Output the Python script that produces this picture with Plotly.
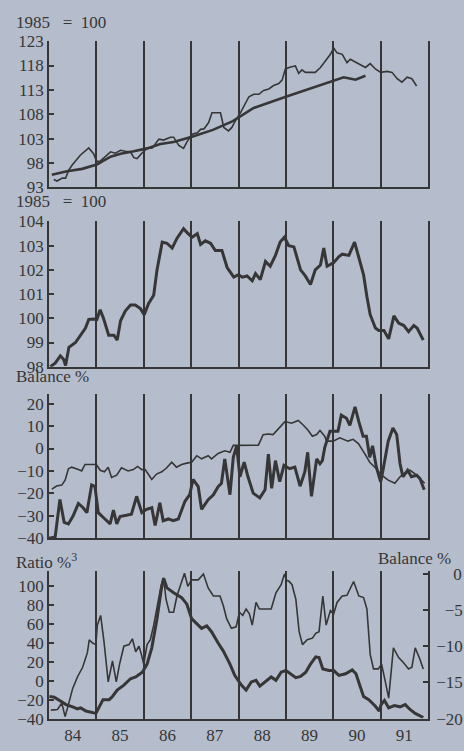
import plotly.graph_objects as go

# ---------------- data ----------------
# Panel 1: index 1985=100 (thin = actual, thick = trend)
x1a = [1984.10,1984.17,1984.28,1984.35,1984.42,1984.49,1984.66,1984.84,1984.94,
       1985.01,1985.08,1985.19,1985.30,1985.40,1985.51,1985.61,1985.72,1985.79,1985.86,1985.96,
       1986.07,1986.18,1986.32,1986.42,1986.56,1986.63,1986.74,1986.84,1986.91,
       1987.02,1987.13,1987.20,1987.27,1987.37,1987.44,1987.55,1987.62,1987.69,1987.79,1987.86,1987.93,
       1988.04,1988.11,1988.22,1988.32,1988.43,1988.53,1988.64,1988.74,1988.85,1988.92,1988.99,
       1989.10,1989.20,1989.27,1989.34,1989.41,1989.52,1989.62,1989.73,1989.83,1989.94,
       1990.01,1990.08,1990.19,1990.29,1990.36,1990.47,1990.57,1990.68,1990.78,1990.89,
       1991.00,1991.14,1991.24,1991.35,1991.45,1991.56,1991.66,1991.76]
y1a = [94.6,94.3,94.9,94.9,96.6,97.6,99.6,101.1,99.9,
       98.3,98.4,99.3,100.3,100.0,100.6,100.4,100.3,99.1,98.9,100.0,
       101.0,101.1,102.9,102.7,103.3,103.3,101.6,101.0,102.3,
       103.9,104.2,104.9,105.0,106.3,108.3,108.3,108.3,105.3,104.6,105.3,106.6,
       108.3,109.6,111.6,112.1,112.1,112.9,113.2,113.9,114.3,115.0,117.3,
       117.7,117.9,116.4,117.1,116.6,116.6,116.6,117.6,118.9,120.3,
       121.6,120.6,120.3,118.6,119.3,118.7,118.1,117.6,118.4,117.3,
       116.6,116.8,116.6,115.3,114.6,115.6,115.3,113.8]
x1t = [1984.06,1984.38,1984.70,1985.01,1985.30,1985.51,1985.79,1986.07,1986.35,1986.63,
       1987.02,1987.46,1987.88,1988.32,1989.03,1989.52,1990.01,1990.22,1990.47,1990.68]
y1t = [95.6,96.3,96.8,97.7,99.3,99.9,100.4,101.0,101.9,102.3,
       103.4,104.8,106.6,109.3,111.7,113.3,114.9,115.6,115.1,115.9]

# Panel 2: index 1985=100
x2 = [1984.03,1984.13,1984.24,1984.31,1984.35,1984.42,1984.56,1984.66,1984.77,1984.84,1984.94,
      1985.01,1985.08,1985.15,1985.26,1985.37,1985.44,1985.51,1985.61,1985.72,1985.82,1985.93,
      1986.01,1986.10,1986.21,1986.28,1986.39,1986.49,1986.60,1986.70,1986.84,1986.91,
      1987.02,1987.13,1987.20,1987.30,1987.41,1987.51,1987.65,1987.76,1987.90,
      1988.00,1988.08,1988.18,1988.29,1988.36,1988.46,1988.57,1988.67,1988.78,1988.88,1988.97,
      1989.06,1989.17,1989.31,1989.41,1989.52,1989.62,1989.73,1989.80,1989.87,
      1990.01,1990.12,1990.19,1990.33,1990.45,1990.54,1990.64,1990.71,1990.78,1990.89,1990.96,
      1991.07,1991.17,1991.28,1991.38,1991.49,1991.59,1991.70,1991.77,1991.90]
y2 = [98.0,98.15,98.45,98.3,98.05,98.8,99.0,99.3,99.6,99.95,99.97,
      99.95,100.35,100.0,99.3,99.3,99.1,99.9,100.3,100.55,100.55,100.4,
      100.15,100.6,100.95,102.0,103.15,103.1,102.9,103.3,103.7,103.55,
      103.35,103.5,103.05,103.2,103.1,102.8,102.8,102.1,101.7,
      101.8,101.7,101.75,101.55,101.85,101.6,102.35,102.15,102.6,103.15,103.35,
      103.0,102.95,102.0,101.75,101.4,102.0,102.2,102.9,102.15,
      102.3,102.55,102.65,102.6,103.15,102.55,101.8,100.9,100.15,99.6,99.5,
      99.5,99.15,100.1,99.8,99.7,99.45,99.7,99.6,99.1]

# Panel 3: balance % (thin and thick)
x3a = [1984.06,1984.16,1984.27,1984.34,1984.41,1984.48,1984.62,1984.69,1984.76,1984.90,
       1985.00,1985.08,1985.17,1985.25,1985.32,1985.43,1985.53,1985.67,1985.78,1985.87,1985.96,
       1986.03,1986.17,1986.27,1986.38,1986.48,1986.59,1986.69,1986.80,1986.91,
       1987.01,1987.12,1987.22,1987.29,1987.36,1987.43,1987.57,1987.71,1987.82,1987.89,1987.99,
       1988.42,1988.52,1988.63,1988.73,1988.87,1988.98,
       1989.12,1989.26,1989.36,1989.46,1989.56,1989.65,1989.72,1989.82,1989.86,
       1990.00,1990.14,1990.31,1990.42,1990.53,1990.67,1990.77,1990.91,
       1991.02,1991.16,1991.30,1991.41,1991.51,1991.62,1991.72,1991.83,1991.93]
y3a = [-18.1,-16.7,-16.3,-14.1,-9.0,-8.3,-9.4,-10.0,-7.1,-7.1,
       -7.1,-9.7,-10.4,-8.3,-12.9,-11.9,-8.6,-10.0,-9.4,-8.0,-9.4,
       -9.4,-13.8,-11.4,-10.4,-8.7,-6.1,-8.3,-7.1,-6.5,
       -6.1,-3.2,-4.6,-3.9,-3.2,-4.6,-2.2,-1.0,-1.7,1.4,1.4,
       1.5,6.2,6.5,6.2,9.4,12.0,
       11.3,12.5,10.6,8.4,5.5,6.2,8.0,5.5,3.3,
       3.3,4.8,3.3,4.1,2.2,-2.5,-6.1,-9.0,
       -11.9,-14.1,-15.5,-12.6,-10.9,-9.7,-11.2,-13.4,-15.5]
x3b = [1984.00,1984.13,1984.23,1984.32,1984.41,1984.51,1984.62,1984.72,1984.80,1984.90,1984.97,
       1985.04,1985.18,1985.29,1985.36,1985.43,1985.50,1985.64,1985.74,1985.85,1985.96,
       1986.06,1986.17,1986.24,1986.34,1986.41,1986.52,1986.62,1986.73,1986.87,1986.97,
       1987.04,1987.15,1987.22,1987.36,1987.47,1987.57,1987.64,1987.71,1987.82,1987.89,1987.96,
       1988.03,1988.12,1988.20,1988.31,1988.45,1988.56,1988.63,1988.70,1988.78,1988.87,1988.96,
       1989.08,1989.19,1989.30,1989.40,1989.46,1989.54,1989.65,1989.72,1989.77,1989.82,1989.93,
       1990.03,1990.10,1990.17,1990.28,1990.35,1990.46,1990.54,1990.63,1990.70,1990.77,1990.83,1990.91,
       1991.00,1991.05,1991.16,1991.26,1991.34,1991.41,1991.47,1991.57,1991.65,1991.76,1991.83,1991.92]
y3b = [-40.0,-39.4,-22.7,-32.9,-33.6,-30.0,-24.5,-26.4,-28.6,-16.2,-16.9,
       -28.6,-31.4,-33.6,-27.4,-33.6,-30.3,-29.7,-29.3,-21.3,-28.6,
       -27.1,-26.4,-34.3,-24.2,-32.2,-31.4,-32.2,-31.4,-23.5,-20.6,
       -13.8,-17.0,-27.1,-22.8,-20.6,-17.0,-15.5,-4.6,-20.6,-3.9,1.2,
       -12.6,-6.1,-12.6,-19.9,-22.0,-18.4,-2.5,-17.7,-5.4,-14.8,-7.5,
       -9.0,-8.3,-16.8,-10.4,-1.7,-21.3,-4.6,-6.8,-5.4,0.4,7.7,
       7.7,7.7,14.9,13.5,10.3,18.6,12.0,5.5,5.5,-3.9,1.2,-8.3,
       -14.8,-9.7,3.3,9.1,6.2,-6.8,-12.6,-9.7,-12.6,-11.9,-13.4,-18.4]

# Panel 4: ratio % (thin and thick)
x4a = [1984.04,1984.18,1984.27,1984.34,1984.41,1984.50,1984.60,1984.71,1984.81,1984.85,1984.92,1984.99,
       1985.02,1985.09,1985.16,1985.25,1985.34,1985.42,1985.49,1985.58,1985.69,1985.76,1985.83,1985.90,1985.95,
       1986.00,1986.07,1986.14,1986.21,1986.30,1986.37,1986.42,1986.47,1986.54,1986.63,1986.70,1986.80,1986.86,1986.93,
       1987.01,1987.15,1987.26,1987.36,1987.47,1987.61,1987.68,1987.75,1987.85,1987.95,
       1988.02,1988.09,1988.16,1988.23,1988.29,1988.37,1988.44,1988.55,1988.69,1988.79,1988.90,1988.97,
       1989.01,1989.07,1989.13,1989.21,1989.28,1989.35,1989.45,1989.56,1989.63,1989.70,1989.78,1989.85,1989.94,
       1990.01,1990.08,1990.19,1990.29,1990.43,1990.54,1990.64,1990.71,1990.78,1990.85,1990.95,
       1991.02,1991.10,1991.17,1991.27,1991.38,1991.48,1991.59,1991.66,1991.73,1991.83,1991.90]
y4a = [-31.1,-30.4,-23.6,-37.9,-25.3,-8.2,3.8,14.0,29.4,43.0,39.6,37.9,
       58.4,68.6,41.3,-1.4,20.8,-1.4,17.4,36.2,37.9,44.0,30.4,36.2,27.6,
       17.4,37.9,43.0,58.4,82.3,101.0,107.9,85.7,72.0,72.0,89.1,104.4,113.0,99.3,
       106.1,106.1,112.3,97.6,89.1,89.1,78.8,65.2,55.0,56.7,
       72.0,68.6,75.4,70.3,58.4,82.3,75.4,75.4,75.4,92.5,101.0,112.3,
       106.1,104.4,101.0,85.7,51.5,37.9,43.0,44.7,49.8,51.5,89.1,58.4,73.7,
       70.3,82.3,89.1,89.8,104.4,89.1,87.4,75.4,27.6,12.3,12.3,
       17.4,-1.4,-18.4,34.5,24.2,19.1,12.3,14.0,34.5,22.5,12.3]
x4b = [1984.01,1984.11,1984.25,1984.36,1984.50,1984.60,1984.67,1984.78,1984.99,
       1985.06,1985.14,1985.27,1985.34,1985.44,1985.58,1985.72,1985.83,1985.97,
       1986.07,1986.17,1986.28,1986.37,1986.42,1986.49,1986.63,1986.80,1986.91,
       1987.01,1987.12,1987.22,1987.33,1987.43,1987.57,1987.68,1987.82,1987.92,
       1988.06,1988.16,1988.27,1988.37,1988.45,1988.58,1988.69,1988.79,1988.90,
       1989.00,1989.10,1989.21,1989.31,1989.42,1989.52,1989.63,1989.70,1989.78,1989.91,
       1990.01,1990.12,1990.26,1990.40,1990.48,1990.57,1990.64,1990.75,1990.89,1990.97,
       1991.01,1991.08,1991.17,1991.29,1991.41,1991.52,1991.62,1991.73,1991.83,1991.90]
y4b = [-16.7,-17.4,-21.8,-25.3,-27.6,-29.7,-28.7,-32.1,-34.5,
       -27.0,-20.1,-20.1,-16.7,-9.9,-4.8,2.0,3.8,8.9,
       17.4,34.5,65.2,95.9,107.9,97.6,92.5,87.4,80.5,
       65.2,60.1,55.0,57.7,51.5,39.6,31.1,17.4,5.5,
       -4.8,-9.9,-1.4,0.3,-5.8,-0.3,3.8,0.3,8.9,
       10.6,7.2,3.1,4.4,8.9,17.4,24.9,24.2,12.3,10.6,
       10.6,5.5,7.2,11.3,7.2,-6.5,-16.7,-20.1,-27.0,-32.1,
       -25.3,-20.8,-28.7,-26.3,-27.6,-25.3,-30.4,-34.5,-37.2,-38.9]

year_bounds = [1985, 1986, 1987, 1988, 1989, 1990, 1991]
year_mid = [1984.5, 1985.5, 1986.5, 1987.5, 1988.5, 1989.5, 1990.5, 1991.5]
year_labels = ["84", "85", "86", "87", "88", "89", "90", "91"]

p1_ticks = [93, 98, 103, 108, 113, 118, 123]
p2_ticks = [98, 99, 100, 101, 102, 103, 104]
p3_ticks = [-40, -30, -20, -10, 0, 10, 20]
p4_ticks = [-40, -20, 0, 20, 40, 60, 80, 100]
p4r_ticks = [0, -5, -10, -15, -20]
# word joiner keeps the padding from being trimmed, so labels line up on the right
p4r_text = ["\u2060\u00a0\u00a0\u00a0\u00a00", "\u2060\u00a0\u00a0\u22125",
            "\u221210", "\u221215", "\u221220"]

# ---------------- style ----------------
BG = "#b5bdcc"
INK = "#363636"
FONT = "Liberation Serif, Times New Roman, serif"
FS = 17
W, H = 464, 751
XL, XR = 49, 428

def py(p):
    return 1 - p / H

fig = go.Figure()

def line(x, y, xa, ya, w):
    fig.add_trace(go.Scatter(x=x, y=y, xaxis=xa, yaxis=ya, mode="lines",
                             line=dict(color=INK, width=w), showlegend=False,
                             hoverinfo="skip"))

line(x1a, y1a, "x", "y", 1.6)
line(x1t, y1t, "x", "y", 2.6)
line(x2, y2, "x2", "y2", 3.0)
line(x3a, y3a, "x3", "y3", 1.6)
line(x3b, y3b, "x3", "y3", 3.0)
line(x4a, y4a, "x4", "y4", 1.6)
line(x4b, y4b, "x4", "y4", 3.0)
# anchor trace for the right-hand balance axis of the bottom panel
fig.add_trace(go.Scatter(x=[1984.5], y=[-30], xaxis="x4", yaxis="y5", mode="markers",
                         marker=dict(opacity=0), showlegend=False, hoverinfo="skip"))

tickfont = dict(family=FONT, size=FS, color=INK)

def xaxis(anchor, labels):
    d = dict(domain=[XL / W, XR / W], range=[1984, 1992], anchor=anchor,
             showline=True, linecolor=INK, linewidth=1.5, showgrid=False,
             zeroline=False, ticks="", fixedrange=True,
             minor=dict(tickmode="array", tickvals=year_bounds, showgrid=True,
                        gridcolor=INK, gridwidth=1.5, ticks=""),
             tickfont=tickfont)
    if labels:
        d.update(tickmode="array", tickvals=year_mid, ticktext=year_labels,
                 showticklabels=True)
    else:
        d.update(showticklabels=False)
    return d

def yaxis(anchor, dom, rng, tv, mirror=True):
    return dict(domain=[py(dom[1]), py(dom[0])], range=rng, anchor=anchor,
                tickmode="array", tickvals=tv, ticks="inside", ticklen=5,
                tickwidth=1.5, tickcolor=INK, showline=True, linecolor=INK,
                linewidth=1.5, mirror=mirror, showgrid=False, zeroline=False,
                tickfont=tickfont, fixedrange=True)

fig.update_layout(
    width=W, height=H, margin=dict(l=0, r=0, t=0, b=0),
    paper_bgcolor=BG, plot_bgcolor=BG,
    font=dict(family=FONT, size=FS, color=INK),
    xaxis=xaxis("y", False),
    xaxis2=xaxis("y2", False),
    xaxis3=xaxis("y3", False),
    xaxis4=xaxis("y4", True),
    yaxis=yaxis("x", (33, 183), [93, 123], p1_ticks),
    yaxis2=yaxis("x2", (218, 367), [98, 104], p2_ticks),
    yaxis3=yaxis("x3", (395, 543), [-40, 24.3], p3_ticks),
    yaxis4=yaxis("x4", (577, 728), [-40, 115], p4_ticks, mirror=False),
    yaxis5=dict(overlaying="y4", side="right", anchor="x4", range=[-20, 0.3],
                tickmode="array", tickvals=p4r_ticks, ticktext=p4r_text,
                ticks="inside", ticklen=5, tickwidth=1.5, tickcolor=INK,
                ticklabelstandoff=3,
                showline=True, linecolor=INK, linewidth=1.5, showgrid=False,
                zeroline=False, tickfont=tickfont, fixedrange=True),
)

def note(text, x, y, anchor="left"):
    fig.add_annotation(text=text, xref="paper", yref="paper", x=x / W, y=py(y),
                       xanchor=anchor, yanchor="middle", showarrow=False,
                       font=dict(family=FONT, size=FS, color=INK))

note("1985\u00a0\u00a0\u00a0=\u00a0\u00a0100", 14, 14)
note("1985\u00a0\u00a0\u00a0=\u00a0\u00a0100", 14, 198)
note("Balance %", 14, 377)
note("Ratio %<sup>3</sup>", 14, 566)
note("Balance %", 376, 564)

fig.write_html("out.html")
